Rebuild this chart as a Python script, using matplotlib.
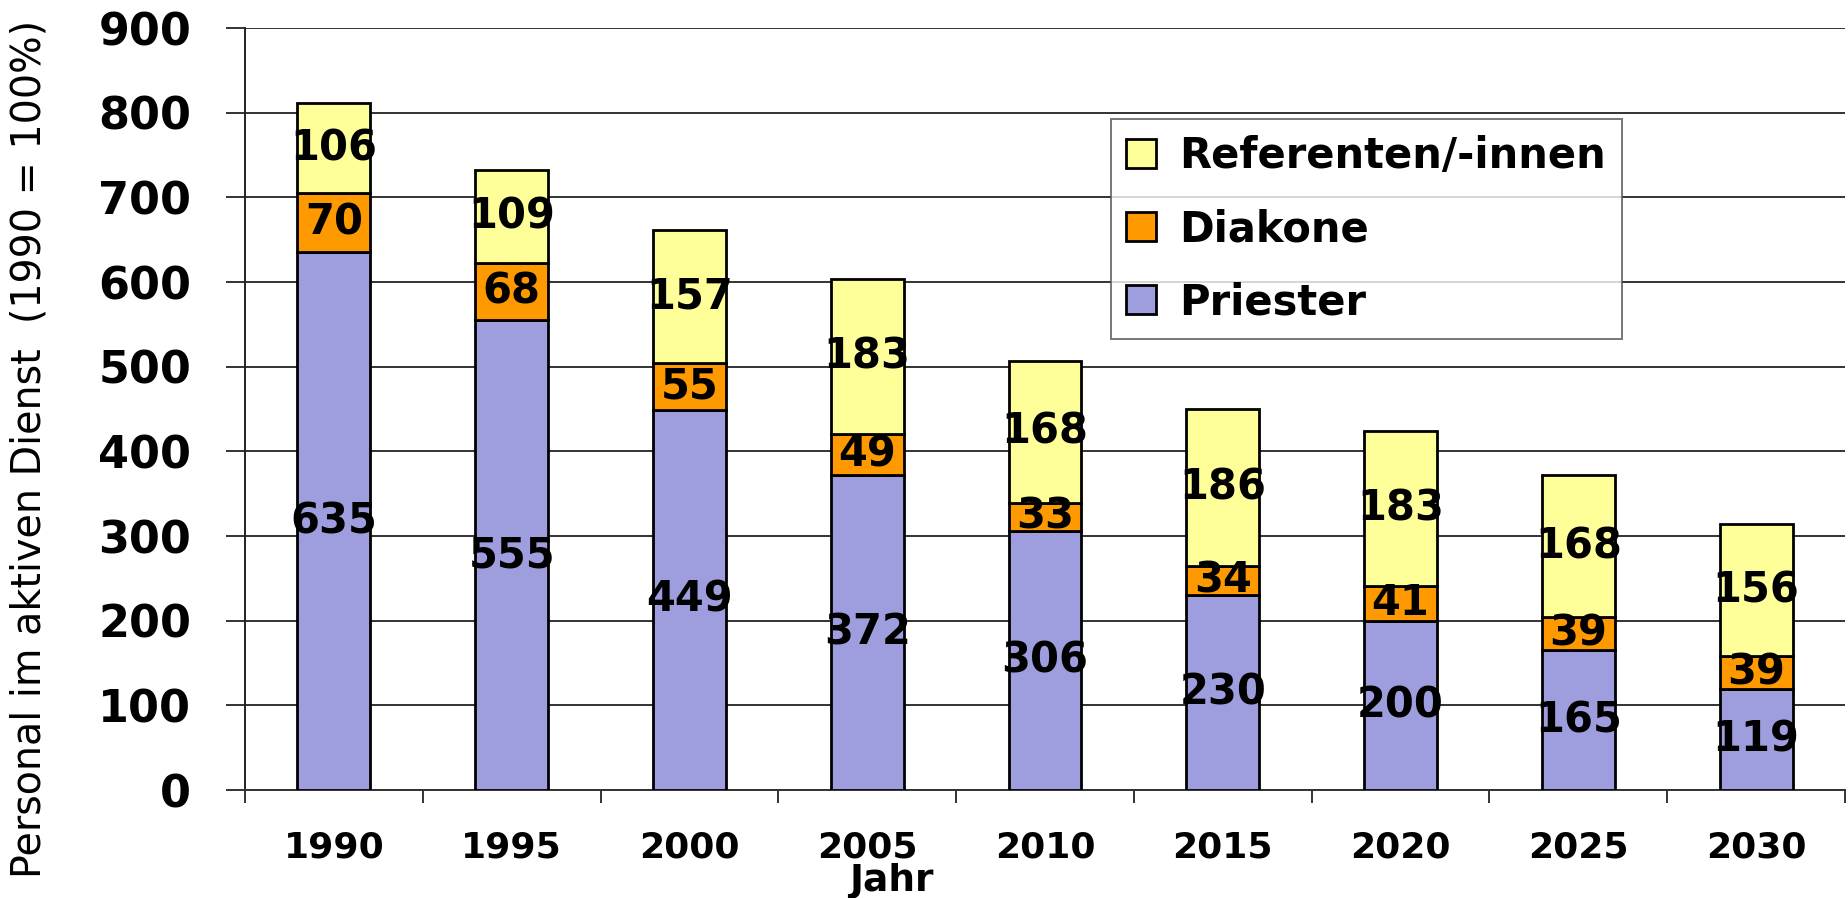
import numpy as np
import matplotlib.pyplot as plt

# data
jahre = ['1990', '1995', '2000', '2005', '2010', '2015', '2020', '2025', '2030']
priester = [635, 555, 449, 372, 306, 230, 200, 165, 119]
diakone = [70, 68, 55, 49, 33, 34, 41, 39, 39]
referenten = [106, 109, 157, 183, 168, 186, 183, 168, 156]

serien = ['Priester', 'Diakone', 'Referenten/-innen']
farben = ['#9e9ede', '#ff9900', '#ffff99']

plt.rcParams['font.family'] = 'DejaVu Sans'

fig = plt.figure(figsize=(18.48, 8.98), dpi=100)
ax = fig.add_axes([245/1848, 1-790/898, 1600/1848, 762/898])

x = np.arange(len(jahre))
unten = np.zeros(len(jahre))
for name, werte, farbe in zip(serien, [priester, diakone, referenten], farben):
    werte = np.array(werte)
    ax.bar(x, werte, 0.41, bottom=unten, color=farbe, edgecolor='black',
           linewidth=2.0, label=name, zorder=3)
    for xi, u, w in zip(x, unten, werte):
        ax.text(xi, u + w/2, str(w), ha='center', va='center',
                fontsize=30, fontweight='bold', zorder=4)
    unten = unten + werte

ax.set_xlim(-0.5, len(jahre) - 0.5)
ax.set_ylim(0, 900)
ax.set_yticks(np.arange(0, 901, 100))
ax.yaxis.grid(True, color='#333333', linewidth=1.4, zorder=0)
ax.set_axisbelow(True)

ax.set_xticks(x)
ax.set_xticklabels(jahre, fontsize=26, fontweight='bold')
ax.set_xticks(np.arange(-0.5, len(jahre)), minor=True)
ax.tick_params(axis='x', which='major', length=0, pad=29)
ax.tick_params(axis='x', which='minor', length=9.5, width=1.4, color='#333333')
ax.tick_params(axis='y', length=13.7, width=1.4, color='#333333', pad=25,
               labelsize=32)
for lab in ax.get_yticklabels():
    lab.set_fontweight('bold')

for s in ['top', 'right']:
    ax.spines[s].set_visible(False)
ax.spines['left'].set_color('#222222')
ax.spines['bottom'].set_color('#333333')
ax.spines['left'].set_linewidth(1.4)
ax.spines['bottom'].set_linewidth(1.4)

ax.set_ylabel('Personal im aktiven Dienst  (1990 = 100%)', fontsize=28.5)
ax.yaxis.set_label_coords(-0.122, 0.448)
fig.text(891/1848, 1-881/898, 'Jahr', ha='center', va='center',
         fontsize=27, fontweight='bold')

handles, labels = ax.get_legend_handles_labels()
leg = ax.legend(handles[::-1], labels[::-1], loc='upper left',
                bbox_to_anchor=(0.541, 0.8806),
                prop={'weight': 'bold', 'size': 30},
                handlelength=0.72, handleheight=0.7, handletextpad=0.55,
                borderpad=0.38, labelspacing=0.75, frameon=True,
                fancybox=False, edgecolor='#555555', borderaxespad=0)
leg.get_frame().set_linewidth(1.4)
leg.set_zorder(5)

plt.savefig('out.png', dpi=100)
